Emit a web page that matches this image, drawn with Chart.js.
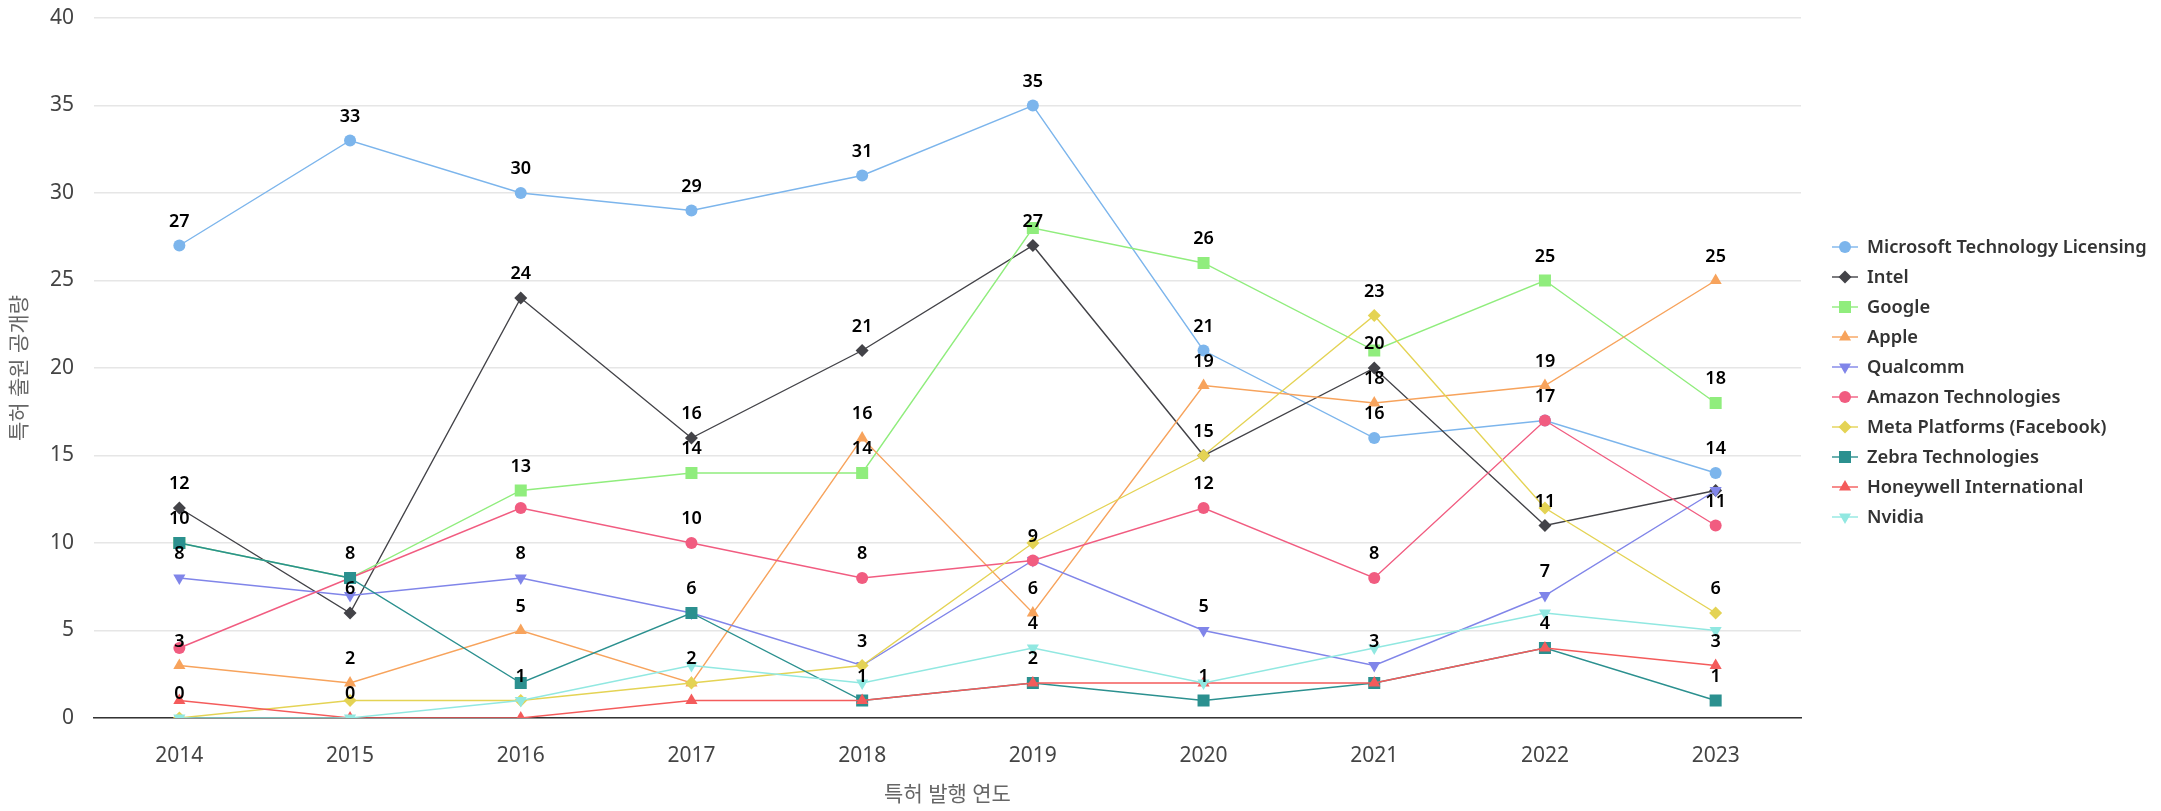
<!DOCTYPE html>
<html>
<head>
<meta charset="utf-8">
<script src="https://cdn.jsdelivr.net/npm/chart.js@4.4.0/dist/chart.umd.min.js"></script>
<style>
  html, body { margin: 0; padding: 0; background: #fff; }
  #wrap { width: 2161px; height: 811px; position: relative; }
</style>
</head>
<body>
<div id="wrap"><canvas id="Chart_patent"></canvas></div>
<script>
var years = ["2014", "2015", "2016", "2017", "2018", "2019", "2020", "2021", "2022", "2023"];

var msft      = [27, 33, 30, 29, 31, 35, 21, 16, 17, 14];
var intel     = [12, 6, 24, 16, 21, 27, 15, 20, 11, 13];
var google    = [10, 8, 13, 14, 14, 28, 26, 21, 25, 18];
var apple     = [3, 2, 5, 2, 16, 6, 19, 18, 19, 25];
var qualcomm  = [8, 7, 8, 6, 3, 9, 5, 3, 7, 13];
var amazon    = [4, 8, 12, 10, 8, 9, 12, 8, 17, 11];
var meta      = [0, 1, 1, 2, 3, 10, 15, 23, 12, 6];
var zebra     = [10, 8, 2, 6, 1, 2, 1, 2, 4, 1];
var honeywell = [1, 0, 0, 1, 1, 2, 2, 2, 4, 3];
var nvidia    = [0, 0, 1, 3, 2, 4, 2, 4, 6, 5];

var seriesNames = ["Microsoft Technology Licensing", "Intel", "Google", "Apple", "Qualcomm",
    "Amazon Technologies", "Meta Platforms (Facebook)", "Zebra Technologies", "Honeywell International", "Nvidia"];
var seriesData = [msft, intel, google, apple, qualcomm, amazon, meta, zebra, honeywell, nvidia];
var colors = ["#7cb5ec", "#434348", "#90ed7d", "#f7a35c", "#8085e9", "#f15c80", "#e4d354", "#2b908f", "#f45b5b", "#91e8e1"];
// highcharts style symbol cycle: circle, diamond, square, triangle, triangle-down
var styles = ["circle", "rectRot", "rect", "triangle", "triangle"];
var rots = [0, 0, 0, 0, 180];
var radii = [6, 6.5, 8.5, 7, 7];

var yTicks = [0, 5, 10, 15, 20, 25, 30, 35, 40];

var FONT = '"Noto Sans", "Noto Sans CJK KR", sans-serif';

var DSets = [];
for (var i = 0; i < seriesData.length; i++) {
    var s = i % 5;
    DSets.push({
        label: seriesNames[i],
        data: seriesData[i],
        borderColor: colors[i],
        backgroundColor: colors[i],
        pointBackgroundColor: colors[i],
        pointBorderColor: colors[i],
        pointBorderWidth: 0,
        pointStyle: styles[s],
        pointRotation: rots[s],
        pointRadius: radii[s],
        pointHoverRadius: radii[s],
        borderWidth: 1.4,
        tension: 0,
        order: -i
    });
}

// value labels above points, overlapping ones hidden (earlier series win)
var labelPlugin = {
    id: "valueLabels",
    afterDatasetsDraw: function (chart) {
        var ctx = chart.ctx;
        ctx.save();
        ctx.font = "600 18px " + FONT;
        ctx.fillStyle = "#000";
        ctx.textAlign = "center";
        ctx.textBaseline = "middle";
        var shown = [];
        for (var i = 0; i < chart.data.datasets.length; i++) {
            var meta = chart.getDatasetMeta(i);
            for (var j = 0; j < meta.data.length; j++) {
                var pt = meta.data[j];
                var txt = String(chart.data.datasets[i].data[j]);
                var w = ctx.measureText(txt).width + 10;
                var h = 27;
                var cx = pt.x, cy = pt.y - 25;
                var box = { l: cx - w / 2, r: cx + w / 2, t: cy - h / 2, b: cy + h / 2 };
                var hit = false;
                for (var k = 0; k < shown.length; k++) {
                    var o = shown[k];
                    if (box.l < o.r && box.r > o.l && box.t < o.b && box.b > o.t) { hit = true; break; }
                }
                if (hit) continue;
                shown.push(box);
                ctx.fillText(txt, cx, cy + 1);
            }
        }
        ctx.restore();
    }
};

// legend drawn on the right, highcharts look (line + marker)
var legendPlugin = {
    id: "sideLegend",
    afterDraw: function (chart) {
        var ctx = chart.ctx;
        ctx.save();
        ctx.font = "600 18.3px " + FONT;
        ctx.textAlign = "left";
        ctx.textBaseline = "middle";
        for (var i = 0; i < seriesNames.length; i++) {
            var y = 247 + i * 30;
            var s = i % 5;
            ctx.strokeStyle = colors[i];
            ctx.lineWidth = 1.4;
            ctx.beginPath(); ctx.moveTo(1832, y); ctx.lineTo(1858, y); ctx.stroke();
            ctx.fillStyle = colors[i];
            Chart.helpers.drawPoint(ctx, { pointStyle: styles[s], rotation: rots[s], radius: radii[s], borderWidth: 0 }, 1845, y);
            ctx.fillStyle = "#333333";
            ctx.fillText(seriesNames[i], 1867, y + 1);
        }
        ctx.restore();
    }
};

var ctx = document.getElementById("Chart_patent");
var chart = new Chart(ctx, {
    type: "line",
    data: { labels: years, datasets: DSets },
    options: {
        responsive: true,
        maintainAspectRatio: false,
        animation: false,
        layout: { padding: { left: 0, right: 360, top: 18, bottom: 0 } },
        plugins: {
            legend: { display: false },
            tooltip: { enabled: false }
        },
        scales: {
            x: {
                offset: true,
                grid: { display: false, drawTicks: false },
                border: { display: true, color: "#333333", width: 1.5 },
                ticks: { color: "#444", font: { family: FONT, size: 21 }, padding: 25 },
                title: { display: true, text: "특허 발행 연도", color: "#666", font: { family: FONT, size: 21 }, padding: { top: 4, bottom: 3 } },
                afterFit: function (scale) { scale.height = 93; scale.paddingLeft = 0; scale.paddingRight = 0; }
            },
            y: {
                min: 0,
                max: 40,
                afterBuildTicks: function (scale) { scale.ticks = yTicks.map(function (v) { return { value: v }; }); },
                grid: { color: "#e6e6e6", lineWidth: 1.5, drawTicks: false },
                border: { display: false },
                ticks: { color: "#444", font: { family: FONT, size: 21 }, padding: 20 },
                title: { display: true, text: "특허 출원 공개량", color: "#666", font: { family: FONT, size: 21 }, padding: { top: 7, bottom: 4 } },
                afterFit: function (scale) { scale.width = 94; scale.paddingTop = 0; scale.paddingBottom = 0; }
            }
        }
    },
    plugins: [labelPlugin, legendPlugin]
});
</script>
</body>
</html>
